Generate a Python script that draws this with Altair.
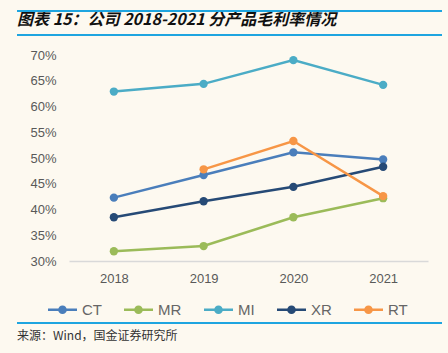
import altair as alt
import pandas as pd

years = ["2018", "2019", "2020", "2021"]
series = ["CT", "MR", "MI", "XR", "RT"]
ct = [42.3, 46.7, 51.1, 49.7]
mr = [31.9, 32.9, 38.5, 42.2]
mi = [62.9, 64.4, 69.0, 64.2]
xr = [38.5, 41.6, 44.4, 48.3]
rt = [None, 47.8, 53.3, 42.6]
colors = ["#4A7EBB", "#9BBB59", "#4BACC6", "#264A76", "#F79646"]

title_text = ["图表 15：公司 2018-2021 分产品毛利率情况"]
source_text = ["来源：Wind，国金证券研究所"]

rows = []
for name, vals in zip(series, [ct, mr, mi, xr, rt]):
    for y, v in zip(years, vals):
        if v is not None:
            rows.append({"year": y, "series": name, "value": v / 100})
df = pd.DataFrame(rows)

W, H = 359, 206
LEFT, TOP = 69, 55

color_scale = alt.Scale(domain=series, range=colors)
legend_symbol = ("M-1,-0.09L-0.25,-0.09L-0.25,0.09L-1,0.09Z"
                 "M0.25,-0.09L1,-0.09L1,0.09L0.25,0.09Z"
                 "M0.3,0A0.3,0.3 0 1,1 -0.3,0A0.3,0.3 0 1,1 0.3,0Z")

x_enc = alt.X("year:N", sort=years, title=None,
              scale=alt.Scale(type="point", padding=0.5),
              axis=alt.Axis(labelAngle=0, ticks=False, domainColor="#D9D9D9",
                            domainWidth=1.5, labelFontSize=13, labelColor="#595959",
                            labelFont="Liberation Sans", labelPadding=11, grid=False))
y_enc = alt.Y("value:Q", title=None,
              scale=alt.Scale(domain=[0.30, 0.70], nice=False, zero=False),
              axis=alt.Axis(format=".0%", values=[0.30, 0.35, 0.40, 0.45, 0.50, 0.55, 0.60, 0.65, 0.70],
                            domain=False, ticks=False, grid=False, labelFontSize=13,
                            labelColor="#595959", labelFont="Liberation Sans", labelPadding=13))

base = alt.Chart(df)
lines = base.mark_line(strokeWidth=2.5).encode(
    x=x_enc, y=y_enc,
    color=alt.Color("series:N", scale=color_scale, sort=series, title=None,
                    legend=alt.Legend(orient="none", legendX=-21, legendY=240,
                                      direction="horizontal", symbolType=legend_symbol,
                                      symbolSize=841, symbolStrokeWidth=0,
                                      labelFontSize=15, labelColor="#666666",
                                      labelFontWeight="normal",
                                      labelFont="Liberation Sans", columnPadding=22,
                                      labelOffset=5, symbolOffset=0)),
    detail="series:N",
)
points = base.mark_point(filled=True, size=70, opacity=1).encode(
    x=x_enc, y=y_enc,
    color=alt.Color("series:N", scale=color_scale, legend=None),
)

title = alt.Chart(pd.DataFrame({"t": title_text})).mark_text(
    align="left", baseline="middle", fontSize=16, fontWeight="bold", fontStyle="italic",
    font="Noto Sans CJK SC", color="#111111"
).encode(x=alt.value(-52), y=alt.value(-35), text="t:N")

source = alt.Chart(pd.DataFrame({"t": source_text})).mark_text(
    align="left", baseline="middle", fontSize=12, font="Noto Sans CJK SC", color="#333333"
).encode(x=alt.value(-52), y=alt.value(281), text="t:N")

rule_y = [-44, -20, 268]
rules = alt.layer(*[
    alt.Chart(pd.DataFrame({"a": [0]})).mark_rule(color="#1EA5E0", strokeWidth=2).encode(
        x=alt.value(-52), x2=alt.value(373), y=alt.value(yv))
    for yv in rule_y
])

chart = alt.layer(lines, points, title, source, rules).properties(
    width=W, height=H,
    padding={"left": LEFT, "top": TOP, "right": 448 - LEFT - W, "bottom": 353 - TOP - H},
    autosize=alt.AutoSizeParams(type="none"),
    background="#FDF9F0",
).configure_view(stroke=None)

chart.save("out.html", embed_options={"renderer": "svg", "actions": False})
